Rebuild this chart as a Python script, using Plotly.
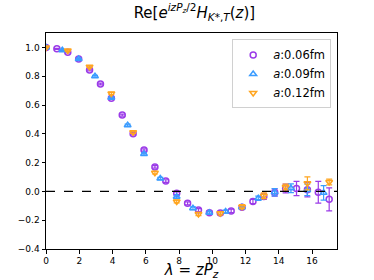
import plotly.graph_objects as go

# a = 0.06 fm
lam_06 = [0.0, 0.655, 1.31, 1.965, 2.62, 3.275, 3.93, 4.585, 5.24, 5.895, 6.55, 7.205, 7.86,
          8.515, 9.17, 9.825, 10.48, 11.135, 11.79, 12.445, 13.1, 13.755, 14.41, 15.065,
          15.72, 16.375, 17.03]
re_06 = [1.0, 0.99, 0.966, 0.92, 0.843, 0.746, 0.647, 0.53, 0.40, 0.287, 0.17, 0.072, -0.013,
         -0.083, -0.13, -0.148, -0.15, -0.136, -0.11, -0.07, -0.035, -0.008, 0.02, 0.02,
         0.012, -0.006, -0.055]
err_06 = [0.003, 0.004, 0.005, 0.005, 0.006, 0.006, 0.007, 0.007, 0.008, 0.008, 0.009, 0.009, 0.01,
          0.01, 0.011, 0.011, 0.012, 0.012, 0.013, 0.014, 0.02, 0.025, 0.03, 0.05,
          0.05, 0.075, 0.08]

# a = 0.09 fm
lam_09 = [0.0, 0.982, 1.964, 2.946, 3.928, 4.91, 5.892, 6.874, 7.856, 8.838, 9.82, 10.802,
          11.784, 12.766, 13.748, 14.73, 15.712, 16.694]
re_09 = [1.0, 0.98, 0.92, 0.80, 0.65, 0.46, 0.26, 0.09, -0.037, -0.117, -0.148, -0.14,
         -0.11, -0.048, -0.006, 0.022, 0.01, -0.01]
err_09 = [0.003, 0.004, 0.005, 0.006, 0.006, 0.007, 0.008, 0.008, 0.009, 0.01, 0.01, 0.011,
          0.012, 0.015, 0.025, 0.03, 0.04, 0.05]

# a = 0.12 fm
lam_12 = [0.0, 1.31, 2.62, 3.93, 5.24, 6.55, 7.86, 9.17, 10.48, 11.79, 13.1, 14.41, 15.72, 17.03]
re_12 = [1.0, 0.978, 0.866, 0.68, 0.41, 0.13, -0.07, -0.157, -0.152, -0.106, -0.03, 0.03,
         0.056, 0.065]
err_12 = [0.003, 0.005, 0.006, 0.007, 0.008, 0.009, 0.01, 0.011, 0.012, 0.014, 0.02, 0.02,
          0.045, 0.02]

x_ticks = [0, 2, 4, 6, 8, 10, 12, 14, 16]
y_ticks = [-0.4, -0.2, 0.0, 0.2, 0.4, 0.6, 0.8, 1.0]

series = [
    ("<i>a</i>:0.06fm", lam_06, re_06, err_06, "#9b3be8", "circle-open"),
    ("<i>a</i>:0.09fm", lam_09, re_09, err_09, "#3b9cff", "triangle-up-open"),
    ("<i>a</i>:0.12fm", lam_12, re_12, err_12, "#ffa51f", "triangle-down-open"),
]

fig = go.Figure()
for name, x, y, e, c, sym in series:
    fig.add_trace(go.Scatter(
        x=x, y=y, mode="markers", name=name,
        marker=dict(symbol=sym, size=6, color=c, line=dict(width=1.5, color=c)),
        error_y=dict(type="data", array=e, visible=True, color=c, thickness=1.2, width=3),
    ))

fig.add_shape(type="line", xref="paper", yref="y", x0=0, x1=1, y0=0, y1=0,
              line=dict(color="black", width=1.3, dash="dash"))

fig.update_layout(
    width=374, height=280,
    margin=dict(l=46, r=37, t=33, b=31),
    paper_bgcolor="white", plot_bgcolor="white",
    font=dict(family="DejaVu Sans", color="black"),
    showlegend=True,
    title=dict(
        text="Re[<i>e</i><sup><i>izP<sub>z</sub></i>/2</sup><i>H</i><sub><i>K</i>*,<i>T</i></sub>(<i>z</i>)]",
        x=0.51, xref="paper", xanchor="center", y=0.975, yanchor="top",
        font=dict(size=15, family="DejaVu Sans"),
    ),
    legend=dict(
        x=0.98, y=0.97, xanchor="right", yanchor="top",
        bgcolor="rgba(255,255,255,0.8)", bordercolor="#d0d0d0", borderwidth=1,
        font=dict(size=11.5), tracegroupgap=0, itemsizing="trace", itemwidth=30,
    ),
    xaxis=dict(
        range=[0, 17.5], tickvals=x_ticks, ticktext=[str(t) for t in x_ticks],
        showgrid=False, zeroline=False, showline=True, linecolor="black", linewidth=1,
        mirror=True, ticks="outside", ticklen=3.5, tickcolor="black",
        tickfont=dict(size=9), automargin=False,
        title=dict(text="<i>λ</i> = <i>zP<sub>z</sub></i>", font=dict(size=15), standoff=4),
    ),
    yaxis=dict(
        range=[-0.4, 1.1], tickvals=y_ticks,
        ticktext=[("\u2212" if t < 0 else "") + f"{abs(t):.1f}" for t in y_ticks],
        showgrid=False, zeroline=False, showline=True, linecolor="black", linewidth=1,
        mirror=True, ticks="outside", ticklen=3.5, tickcolor="black",
        tickfont=dict(size=9), automargin=False,
    ),
)

fig.write_html("out.html", config={"displayModeBar": False},
               post_script="document.body.style.margin='0';")
